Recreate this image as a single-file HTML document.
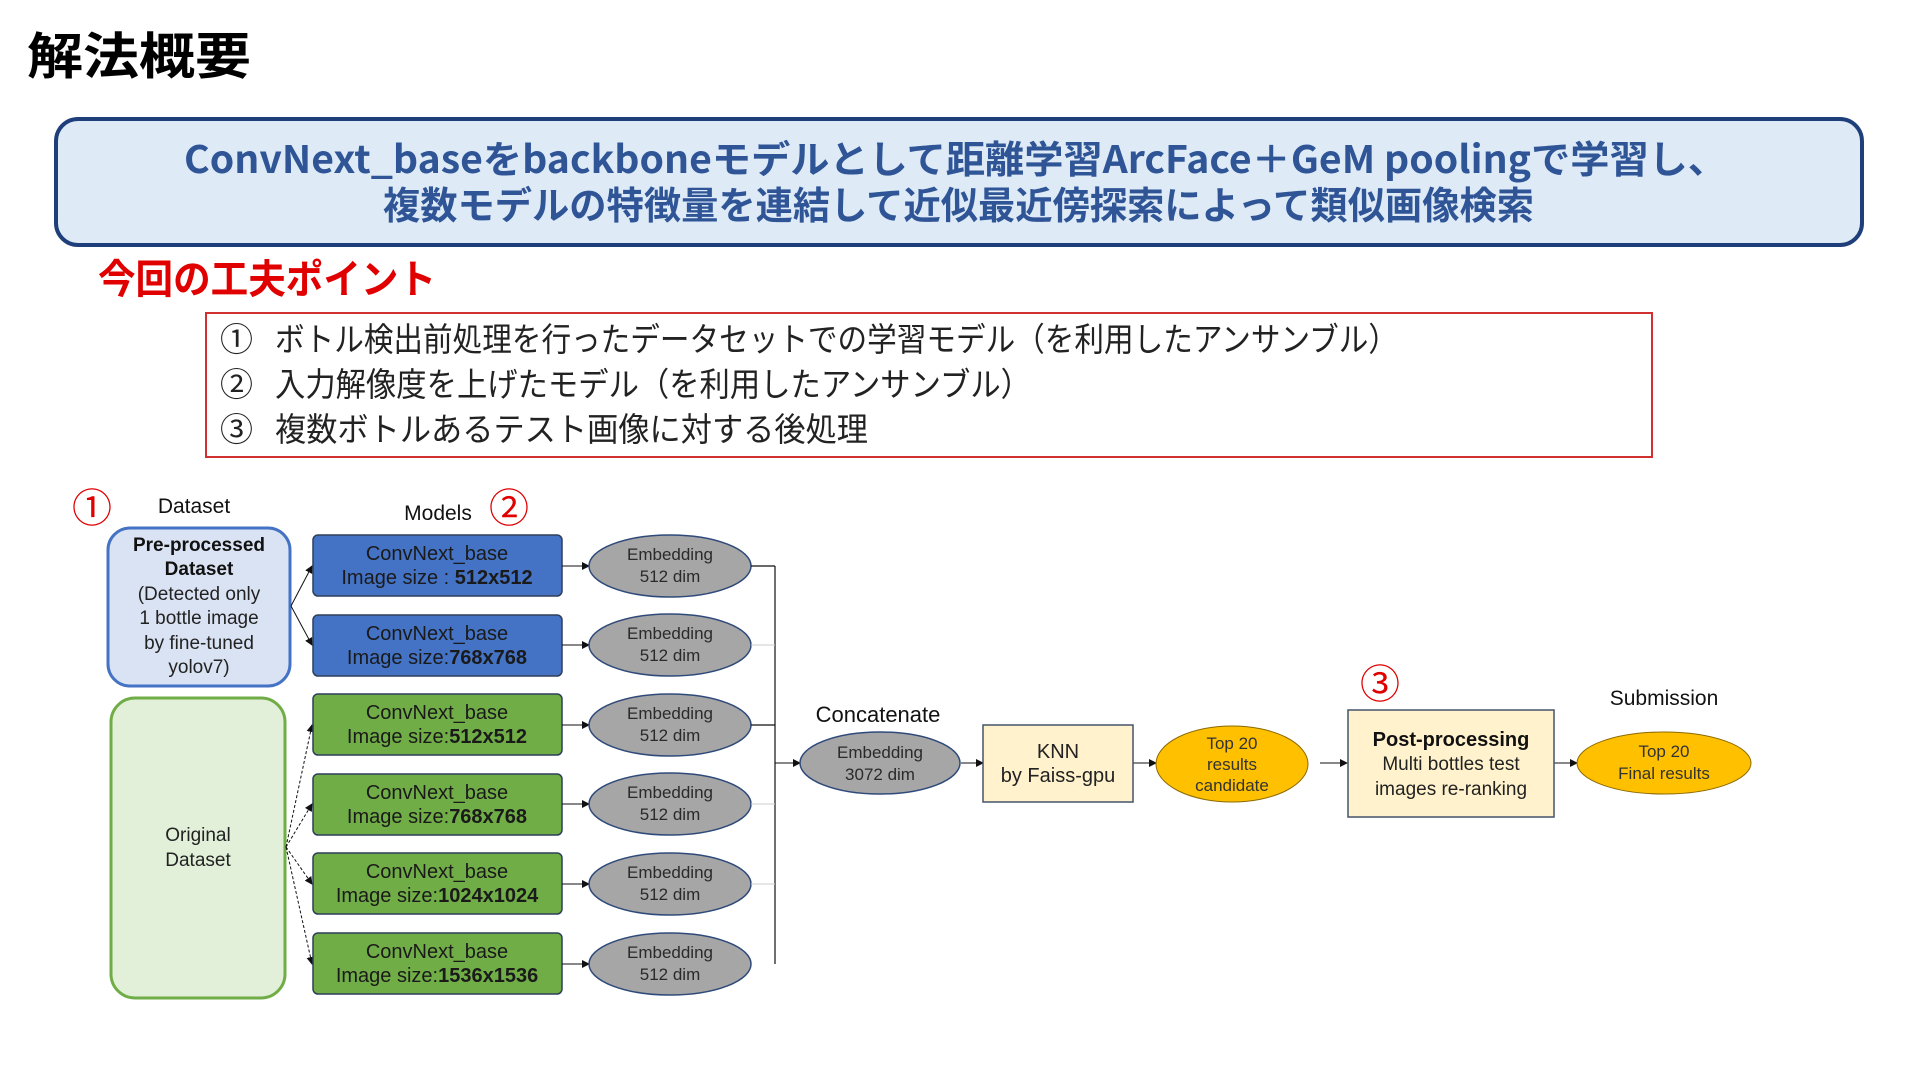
<!DOCTYPE html>
<html><head><meta charset="utf-8"><style>
html,body{margin:0;padding:0;background:#fff;}
svg{display:block;}
text{font-family:"Liberation Sans","Noto Sans CJK JP",sans-serif;}
.jp{font-family:"Noto Sans CJK JP","Liberation Sans",sans-serif;}
.mt{font-size:20px;fill:#1a1a1a;text-anchor:middle;}
.et{font-size:17px;fill:#2a2a2a;text-anchor:middle;}
</style></head><body>
<svg width="1920" height="1079" viewBox="0 0 1920 1079" xmlns="http://www.w3.org/2000/svg">
<defs>
<marker id="ar" markerWidth="8" markerHeight="8" refX="7" refY="4" orient="auto" markerUnits="userSpaceOnUse"><path d="M0,0 L8,4 L0,8 z" fill="#111"/></marker>
</defs>
<text class="jp" x="27" y="74" font-size="50" font-weight="bold" fill="#000" textLength="224" lengthAdjust="spacingAndGlyphs">解法概要</text>

<rect x="56" y="119" width="1806" height="126" rx="22" fill="#DEEBF7" stroke="#1F3F7A" stroke-width="4"/>
<text class="jp" x="184" y="173" font-size="38" font-weight="bold" fill="#2F5597" textLength="1543" lengthAdjust="spacingAndGlyphs">ConvNext_baseをbackboneモデルとして距離学習ArcFace＋GeM poolingで学習し、</text>
<text class="jp" x="383" y="219" font-size="38" font-weight="bold" fill="#2F5597" textLength="1151" lengthAdjust="spacingAndGlyphs">複数モデルの特徴量を連結して近似最近傍探索によって類似画像検索</text>

<text class="jp" x="98" y="293" font-size="40" font-weight="bold" fill="#E00000" textLength="338" lengthAdjust="spacingAndGlyphs">今回の工夫ポイント</text>

<rect x="206" y="313" width="1446" height="144" fill="#fff" stroke="#D03030" stroke-width="2"/>
<text class="jp" x="220" y="351" font-size="33" fill="#222">①</text>
<text class="jp" x="275" y="351" font-size="33" fill="#222" textLength="1123" lengthAdjust="spacingAndGlyphs">ボトル検出前処理を行ったデータセットでの学習モデル（を利用したアンサンブル）</text>
<text class="jp" x="220" y="396" font-size="33" fill="#222">②</text>
<text class="jp" x="275" y="396" font-size="33" fill="#222" textLength="756" lengthAdjust="spacingAndGlyphs">入力解像度を上げたモデル（を利用したアンサンブル）</text>
<text class="jp" x="220" y="441" font-size="33" fill="#222">③</text>
<text class="jp" x="275" y="441" font-size="33" fill="#222" textLength="593" lengthAdjust="spacingAndGlyphs">複数ボトルあるテスト画像に対する後処理</text>

<text x="92" y="522" font-size="40" fill="#E00000" text-anchor="middle" class="jp">①</text>
<text x="509" y="522" font-size="40" fill="#E00000" text-anchor="middle" class="jp">②</text>
<text x="1380" y="698" font-size="40" fill="#E00000" text-anchor="middle" class="jp">③</text>

<text x="194" y="513" font-size="21" fill="#111" text-anchor="middle">Dataset</text>
<text x="438" y="520" font-size="21" fill="#111" text-anchor="middle">Models</text>
<text x="878" y="722" font-size="22" fill="#111" text-anchor="middle">Concatenate</text>
<text x="1664" y="705" font-size="21" fill="#111" text-anchor="middle">Submission</text>

<rect x="108" y="528" width="182" height="158" rx="22" fill="#DAE3F3" stroke="#4472C4" stroke-width="3"/>
<text x="199" y="551" font-size="19" font-weight="bold" fill="#111" text-anchor="middle">Pre-processed</text>
<text x="199" y="575" font-size="19" font-weight="bold" fill="#111" text-anchor="middle">Dataset</text>
<text x="199" y="600" font-size="19" fill="#222" text-anchor="middle">(Detected only</text>
<text x="199" y="624" font-size="19" fill="#222" text-anchor="middle">1 bottle image</text>
<text x="199" y="649" font-size="19" fill="#222" text-anchor="middle">by fine-tuned</text>
<text x="199" y="673" font-size="19" fill="#222" text-anchor="middle">yolov7)</text>

<rect x="111" y="698" width="174" height="300" rx="24" fill="#E2F0D9" stroke="#70AD47" stroke-width="3"/>
<text x="198" y="841" font-size="19" fill="#222" text-anchor="middle">Original</text>
<text x="198" y="866" font-size="19" fill="#222" text-anchor="middle">Dataset</text>

<g stroke="#111" stroke-width="1" fill="none" marker-end="url(#ar)">
<line x1="291" y1="606" x2="312" y2="566"/>
<line x1="291" y1="606" x2="312" y2="645"/>
</g>
<g stroke="#111" stroke-width="1" fill="none" stroke-dasharray="3,2" marker-end="url(#ar)">
<line x1="286" y1="847" x2="312" y2="725"/>
<line x1="286" y1="847" x2="312" y2="804"/>
<line x1="286" y1="847" x2="312" y2="884"/>
<line x1="286" y1="847" x2="312" y2="964"/>
</g>

<g stroke="#2F3F5A" stroke-width="1.5">
<rect x="313" y="535" width="249" height="61" rx="5" fill="#4472C4"/>
<rect x="313" y="615" width="249" height="61" rx="5" fill="#4472C4"/>
<rect x="313" y="694" width="249" height="61" rx="5" fill="#70AD47"/>
<rect x="313" y="774" width="249" height="61" rx="5" fill="#70AD47"/>
<rect x="313" y="853" width="249" height="61" rx="5" fill="#70AD47"/>
<rect x="313" y="933" width="249" height="61" rx="5" fill="#70AD47"/>
</g>
<text class="mt" x="437" y="560">ConvNext_base</text>
<text class="mt" x="437" y="584">Image size : <tspan font-weight="bold">512x512</tspan></text>
<text class="mt" x="437" y="640">ConvNext_base</text>
<text class="mt" x="437" y="664">Image size:<tspan font-weight="bold">768x768</tspan></text>
<text class="mt" x="437" y="719">ConvNext_base</text>
<text class="mt" x="437" y="743">Image size:<tspan font-weight="bold">512x512</tspan></text>
<text class="mt" x="437" y="799">ConvNext_base</text>
<text class="mt" x="437" y="823">Image size:<tspan font-weight="bold">768x768</tspan></text>
<text class="mt" x="437" y="878">ConvNext_base</text>
<text class="mt" x="437" y="902">Image size:<tspan font-weight="bold">1024x1024</tspan></text>
<text class="mt" x="437" y="958">ConvNext_base</text>
<text class="mt" x="437" y="982">Image size:<tspan font-weight="bold">1536x1536</tspan></text>

<g stroke="#111" stroke-width="1" marker-end="url(#ar)">
<line x1="562" y1="566" x2="589" y2="566"/>
<line x1="562" y1="645" x2="589" y2="645"/>
<line x1="562" y1="725" x2="589" y2="725"/>
<line x1="562" y1="804" x2="589" y2="804"/>
<line x1="562" y1="884" x2="589" y2="884"/>
<line x1="562" y1="964" x2="589" y2="964"/>
</g>

<g fill="#A6A6A6" stroke="#2F4A7A" stroke-width="1.5">
<ellipse cx="670" cy="566" rx="81" ry="31"/>
<ellipse cx="670" cy="645" rx="81" ry="31"/>
<ellipse cx="670" cy="725" rx="81" ry="31"/>
<ellipse cx="670" cy="804" rx="81" ry="31"/>
<ellipse cx="670" cy="884" rx="81" ry="31"/>
<ellipse cx="670" cy="964" rx="81" ry="31"/>
</g>
<text class="et" x="670" y="560">Embedding</text><text class="et" x="670" y="582">512 dim</text>
<text class="et" x="670" y="639">Embedding</text><text class="et" x="670" y="661">512 dim</text>
<text class="et" x="670" y="719">Embedding</text><text class="et" x="670" y="741">512 dim</text>
<text class="et" x="670" y="798">Embedding</text><text class="et" x="670" y="820">512 dim</text>
<text class="et" x="670" y="878">Embedding</text><text class="et" x="670" y="900">512 dim</text>
<text class="et" x="670" y="958">Embedding</text><text class="et" x="670" y="980">512 dim</text>

<g stroke="#111" stroke-width="1.2" fill="none">
<line x1="751" y1="566" x2="775" y2="566"/>
<line x1="751" y1="725" x2="775" y2="725"/>
<line x1="775" y1="566" x2="775" y2="964"/>
</g>
<g stroke="#ccc" stroke-width="1">
<line x1="751" y1="645" x2="775" y2="645"/>
<line x1="751" y1="804" x2="775" y2="804"/>
<line x1="751" y1="884" x2="775" y2="884"/>
</g>
<g stroke="#111" stroke-width="1" marker-end="url(#ar)">
<line x1="775" y1="763" x2="800" y2="763"/>
<line x1="961" y1="763" x2="983" y2="763"/>
<line x1="1133" y1="763" x2="1156" y2="763"/>
<line x1="1320" y1="763" x2="1347" y2="763"/>
<line x1="1554" y1="763" x2="1577" y2="763"/>
</g>

<ellipse cx="880" cy="763" rx="80" ry="31" fill="#A6A6A6" stroke="#2F4A7A" stroke-width="1.5"/>
<text class="et" x="880" y="758">Embedding</text><text class="et" x="880" y="780">3072 dim</text>

<rect x="983" y="725" width="150" height="77" fill="#FFF2CC" stroke="#44546A" stroke-width="1.5"/>
<text x="1058" y="758" font-size="20" fill="#222" text-anchor="middle">KNN</text>
<text x="1058" y="782" font-size="20" fill="#222" text-anchor="middle">by Faiss-gpu</text>

<ellipse cx="1232" cy="764" rx="76" ry="38" fill="#FFC000" stroke="#8C6A00" stroke-width="1"/>
<text x="1232" y="749" font-size="17" fill="#333" text-anchor="middle">Top 20</text>
<text x="1232" y="770" font-size="17" fill="#333" text-anchor="middle">results</text>
<text x="1232" y="791" font-size="17" fill="#333" text-anchor="middle">candidate</text>

<rect x="1348" y="710" width="206" height="107" fill="#FFF2CC" stroke="#44546A" stroke-width="1.5"/>
<text x="1451" y="746" font-size="20" font-weight="bold" fill="#111" text-anchor="middle">Post-processing</text>
<text x="1451" y="770" font-size="19" fill="#222" text-anchor="middle">Multi bottles test</text>
<text x="1451" y="795" font-size="19" fill="#222" text-anchor="middle">images re-ranking</text>

<ellipse cx="1664" cy="763" rx="87" ry="31" fill="#FFC000" stroke="#8C6A00" stroke-width="1"/>
<text x="1664" y="757" font-size="17" fill="#333" text-anchor="middle">Top 20</text>
<text x="1664" y="779" font-size="17" fill="#333" text-anchor="middle">Final results</text>
</svg>
</body></html>
